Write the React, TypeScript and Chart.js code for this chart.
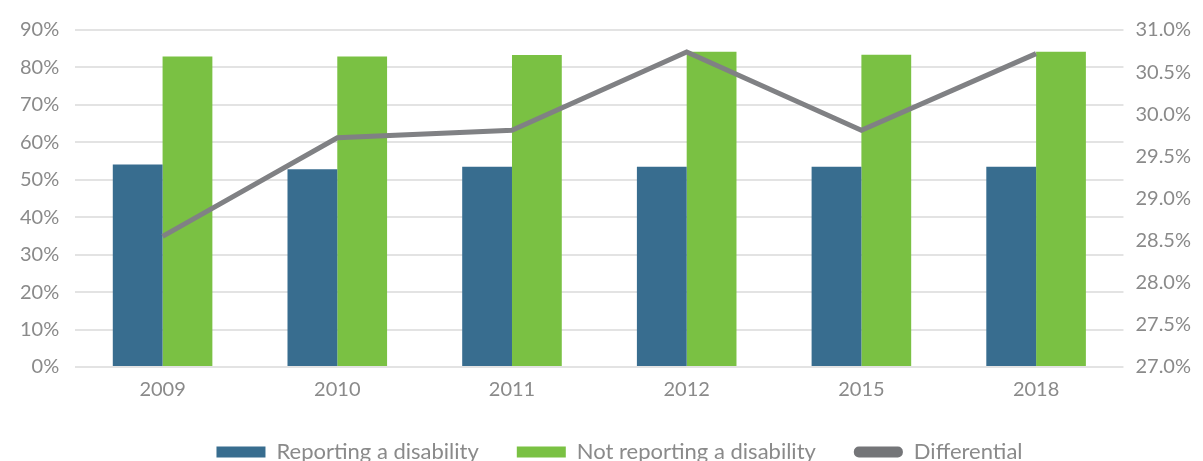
import React, { useEffect, useRef } from "react";
import { Chart, registerables } from "chart.js";

Chart.register(...registerables);

const categories = ["2009", "2010", "2011", "2012", "2015", "2018"];
const reporting = [54.1, 52.8, 53.5, 53.5, 53.5, 53.5];
const notReporting = [82.9, 82.9, 83.3, 84.2, 83.4, 84.2];
const differential = [28.55, 29.72, 29.81, 30.74, 29.81, 30.72];

const leftTicks = [0, 10, 20, 30, 40, 50, 60, 70, 80, 90];
const rightTicks = [27.0, 27.5, 28.0, 28.5, 29.0, 29.5, 30.0, 30.5, 31.0];

export default function App() {
  const ref = useRef<HTMLCanvasElement | null>(null);

  useEffect(() => {
    document.body.style.margin = "0";
    document.body.style.overflow = "hidden";
    const canvas = ref.current;
    if (!canvas) return;
    const textColor = "#8a8a8a";
    const font = { family: "Lato", size: 20 };
    const legendFont = { family: "Lato", size: 22 };
    const defaultGen = (Chart.defaults as any).plugins.legend.labels.generateLabels;
    const shiftLegend = {
      id: "shiftLegend",
      afterLayout(c: any) {
        if (c.legend) {
          c.legend.left += 16;
          c.legend.right += 16;
        }
      },
    };
    const chart = new Chart(canvas, {
      type: "bar",
      plugins: [shiftLegend],
      data: {
        labels: categories,
        datasets: [
          {
            type: "bar",
            label: "Reporting a disability",
            data: reporting,
            backgroundColor: "#386d8f",
            borderWidth: 0,
            yAxisID: "y",
            order: 2,
            categoryPercentage: 0.57,
            barPercentage: 1,
          },
          {
            type: "bar",
            label: "Not reporting a disability",
            data: notReporting,
            backgroundColor: "#7ac143",
            borderWidth: 0,
            yAxisID: "y",
            order: 2,
            categoryPercentage: 0.57,
            barPercentage: 1,
          },
          {
            type: "line",
            label: "Differential",
            data: differential,
            borderColor: "#808184",
            backgroundColor: "#808184",
            borderWidth: 5,
            pointRadius: 0,
            tension: 0,
            yAxisID: "y1",
            order: 0,
          } as any,
        ],
      },
      options: {
        responsive: false,
        animation: false,
        events: [],
        layout: { padding: { left: 4, right: 0, top: 30, bottom: 0 } },
        plugins: {
          tooltip: { enabled: false },
          legend: {
            position: "bottom",
            labels: {
              sort: (a: any, b: any) => a.datasetIndex - b.datasetIndex,
              boxWidth: 49,
              boxHeight: 11,
              padding: 38,
              color: textColor,
              font: legendFont,
              useBorderRadius: true,
              generateLabels: (c: any) =>
                defaultGen(c).map((it: any) => {
                  it.lineWidth = 0;
                  it.strokeStyle = "rgba(0,0,0,0)";
                  if (it.datasetIndex === 2) {
                    it.fillStyle = "#747578";
                    it.borderRadius = 5;
                  } else {
                    it.borderRadius = 0;
                  }
                  return it;
                }),
            },
          },
        },
        scales: {
          x: {
            grid: { display: false },
            border: { display: false },
            ticks: { color: textColor, font, padding: 3 },
            afterFit: (s: any) => {
              s.height -= 2;
            },
          },
          y: {
            position: "left",
            min: 0,
            max: 90,
            afterBuildTicks: (s: any) => {
              s.ticks = leftTicks.map((v) => ({ value: v }));
            },
            ticks: {
              color: textColor,
              font,
              padding: 16,
              callback: (v: any) => `${v}%`,
            },
            grid: { color: "#e3e3e3", lineWidth: 2, drawTicks: false },
            border: { display: false },
          },
          y1: {
            position: "right",
            min: 27,
            max: 31,
            afterBuildTicks: (s: any) => {
              s.ticks = rightTicks.map((v) => ({ value: v }));
            },
            ticks: {
              color: textColor,
              font,
              padding: 12,
              callback: (v: any) => `${Number(v).toFixed(1)}%`,
            },
            grid: { display: false, drawTicks: false },
            border: { display: false },
          },
        },
      },
    });
    return () => chart.destroy();
  }, []);

  return (
    <div style={{ width: 1203, height: 461, overflow: "hidden", position: "relative" }}>
      <canvas ref={ref} width={1203} height={473} style={{ display: "block" }} />
    </div>
  );
}
